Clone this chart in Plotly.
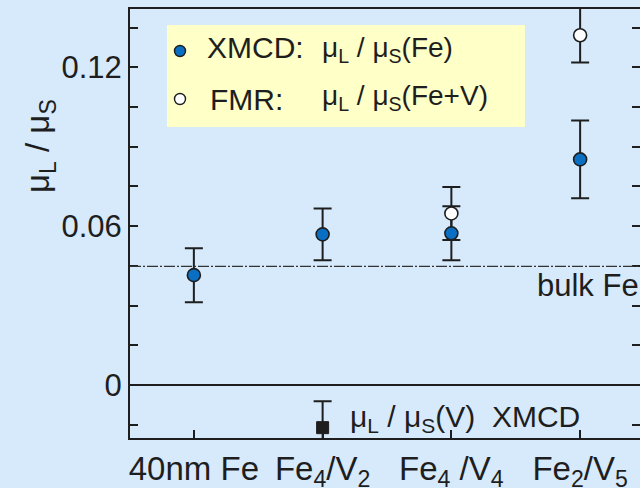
import plotly.graph_objects as go

# ---- data -------------------------------------------------------------
categories = ["40nm Fe", "Fe4/V2", "Fe4/V4", "Fe2/V5"]
tick_labels = ["40nm Fe",
               "Fe<sub>4</sub>/V<sub>2</sub>",
               "Fe<sub>4</sub> /V<sub>4</sub>",
               "Fe<sub>2</sub>/V<sub>5</sub>"]

# XMCD orbital-to-spin moment ratio of Fe
xmcd_fe = [0.0415, 0.0569, 0.0573, 0.0852]
xmcd_fe_err = [0.0102, 0.0098, 0.0102, 0.0147]

# FMR ratio of the whole Fe+V stack
fmr_cats = ["Fe4/V4", "Fe2/V5"]
fmr_fev = [0.0648, 0.1321]
fmr_fev_err = [0.0100, 0.0103]

# XMCD ratio on the V sites
v_cats = ["Fe4/V2"]
xmcd_v = [-0.0161]
xmcd_v_err = [0.0100]

bulk_fe = 0.0448

# ---- layout geometry ----------------------------------------------------
W, H = 640, 488
ML, MT, MB = 130, 9, 50
PW, PH = W - ML, H - MT - MB
XRANGE = [-0.496, 3.465]
YRANGE = [-0.0200, 0.1420]

BG = "#d6eafb"
INK = "#1e1e1e"
BLUE = "#0a6fc2"
FONT = "Liberation Sans, Arial, Helvetica, sans-serif"


def px(x):
    return (x - ML) / PW


def py(y):
    return (H - MB - y) / PH


xpos = {c: i for i, c in enumerate(categories)}

fig = go.Figure()

err_style = dict(type="data", visible=True, color=INK, thickness=2, width=9)
hidden = dict(size=1, color="rgba(0,0,0,0)")

# error bars first so every marker sits above all bars
fig.add_trace(go.Scatter(
    x=[xpos[c] for c in categories], y=xmcd_fe, mode="markers", marker=hidden,
    error_y=dict(array=xmcd_fe_err, **err_style), cliponaxis=False,
    hoverinfo="skip", showlegend=False))
fig.add_trace(go.Scatter(
    x=[xpos[c] for c in fmr_cats], y=fmr_fev, mode="markers", marker=hidden,
    error_y=dict(array=fmr_fev_err, **err_style), cliponaxis=False,
    hoverinfo="skip", showlegend=False))
fig.add_trace(go.Scatter(
    x=[xpos[c] for c in v_cats], y=xmcd_v, mode="markers", marker=hidden,
    error_y=dict(array=xmcd_v_err, **err_style), cliponaxis=False,
    hoverinfo="skip", showlegend=False))

# markers
fig.add_trace(go.Scatter(
    x=[xpos[c] for c in categories], y=xmcd_fe, mode="markers",
    name="XMCD Fe", cliponaxis=False,
    marker=dict(symbol="circle", size=13, color=BLUE,
                line=dict(color=INK, width=1.6)),
    showlegend=False))
fig.add_trace(go.Scatter(
    x=[xpos[c] for c in fmr_cats], y=fmr_fev, mode="markers",
    name="FMR Fe+V", cliponaxis=False,
    marker=dict(symbol="circle", size=13, color="white",
                line=dict(color=INK, width=1.6)),
    showlegend=False))
fig.add_trace(go.Scatter(
    x=[xpos[c] for c in v_cats], y=xmcd_v, mode="markers",
    name="XMCD V", cliponaxis=False,
    marker=dict(symbol="square", size=12, color=INK,
                line=dict(color=INK, width=1)),
    showlegend=False))

# dummy trace so the right-hand tick axis is drawn
fig.add_trace(go.Scatter(x=[None], y=[None], yaxis="y2",
                         showlegend=False, hoverinfo="skip"))

# bulk Fe reference line
fig.add_shape(type="line", xref="paper", yref="y", x0=0, x1=1,
              y0=bulk_fe, y1=bulk_fe,
              line=dict(color="#333333", width=1.3, dash="11px,2px,2px,2px"))

# legend panel
fig.add_shape(type="rect", xref="paper", yref="paper",
              x0=px(167), x1=px(525), y0=py(127), y1=py(25),
              fillcolor="#ffffc8", line=dict(width=0), layer="below")
for yy, col in [(51, BLUE), (99, "white")]:
    fig.add_shape(type="circle", xref="paper", yref="paper",
                  xsizemode="pixel", ysizemode="pixel",
                  xanchor=px(180), yanchor=py(yy),
                  x0=-5.5, x1=5.5, y0=-5.5, y1=5.5,
                  fillcolor=col, line=dict(color=INK, width=1.4))

ann = []
ann.append(dict(text="XMCD:", x=px(205), y=py(47), xanchor="left", yanchor="middle",
                font=dict(size=30)))
ann.append(dict(text="FMR:", x=px(208), y=py(99), xanchor="left", yanchor="middle",
                font=dict(size=30)))
ann.append(dict(text="μ<sub>L</sub> / μ<sub>S</sub>(Fe)", x=px(320), y=py(50),
                xanchor="left", yanchor="middle", font=dict(size=28)))
ann.append(dict(text="μ<sub>L</sub> / μ<sub>S</sub>(Fe+V)", x=px(320), y=py(98),
                xanchor="left", yanchor="middle", font=dict(size=28)))
ann.append(dict(text="bulk Fe", x=px(641), y=py(285), xanchor="right",
                yanchor="middle", font=dict(size=31)))
ann.append(dict(text="μ<sub>L</sub> / μ<sub>S</sub>(V)\u00a0\u00a0XMCD", x=px(348),
                y=py(418), xanchor="left", yanchor="middle", font=dict(size=30)))
ann.append(dict(text="μ<sub>L</sub> / μ<sub>S</sub>", x=px(40), y=py(146),
                xanchor="center", yanchor="middle", textangle=-90,
                font=dict(size=33)))
for a in ann:
    a.update(xref="paper", yref="paper", showarrow=False)
    a["font"].update(family=FONT, color=INK)

fig.update_layout(
    width=W, height=H,
    margin=dict(l=ML, r=0, t=MT, b=MB, pad=0, autoexpand=False),
    paper_bgcolor=BG, plot_bgcolor=BG,
    font=dict(family=FONT, color=INK),
    showlegend=False,
    annotations=ann,
    xaxis=dict(range=XRANGE, tickmode="array", automargin=False,
               tickvals=list(range(len(categories))), ticktext=tick_labels,
               ticks="inside", ticklen=8, tickwidth=1.6, tickcolor=INK,
               showline=True, linewidth=2, linecolor=INK, mirror=True,
               showgrid=False, zeroline=False,
               tickfont=dict(size=33, family=FONT, color=INK)),
    yaxis=dict(range=YRANGE, tick0=0, dtick=0.06, automargin=False,
               ticks="inside", ticklen=8, tickwidth=1.6, tickcolor=INK,
               minor=dict(dtick=0.015, tick0=0, ticks="inside", ticklen=8,
                          tickwidth=1.6, tickcolor=INK, showgrid=False),
               showline=True, linewidth=2, linecolor=INK, mirror=False,
               showgrid=False, zeroline=True, zerolinecolor=INK,
               zerolinewidth=1.6,
               tickfont=dict(size=31, family=FONT, color=INK)),
    yaxis2=dict(range=YRANGE, overlaying="y", side="right", anchor="x",
                automargin=False,
                tick0=0, dtick=0.015, ticks="inside", ticklen=8,
                tickwidth=1.6, tickcolor=INK, showticklabels=False,
                showline=False, showgrid=False, zeroline=False),
)

fig.write_html("out.html")
